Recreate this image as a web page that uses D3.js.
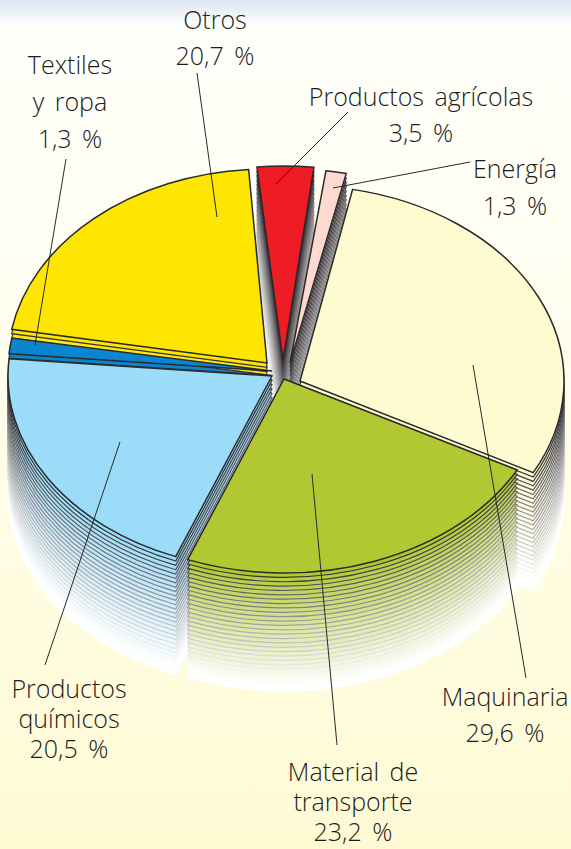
<!DOCTYPE html>
<html><head><meta charset="utf-8">
<script src="https://cdn.jsdelivr.net/npm/d3@7"></script>
<style>html,body{margin:0;padding:0;background:#fffbdc}svg{display:block}</style>
</head><body><svg id="c" width="571" height="849"></svg>
<script>
// ---- data ----
const categories = ["Maquinaria","Material de transporte","Productos químicos","Textiles y ropa","Otros","Productos agrícolas","Energía"];
const values = [29.6, 23.2, 20.5, 1.3, 20.7, 3.5, 1.3];
const valueLabels = ["29,6 %","23,2 %","20,5 %","1,3 %","20,7 %","3,5 %","1,3 %"];
const labelLines = [["Maquinaria"],["Material de","transporte"],["Productos","químicos"],["Textiles","y ropa"],["Otros"],["Productos agrícolas"],["Energía"]];
const colors = ["#fffbd0","#b2c832","#9bdcf9","#0a86d0","#ffe600","#ee1c25","#fdd9cf"];

// ---- layout ----
const W = 571, H = 849;
const RX = 264, RY = 194, DEPTH = 118, LAYERS = 27;
const apexX = [300,284,272,272,267,283,290];
const apexY = [381,379,376,371,363,360,363];
const rxFactor = [1,1,1,1,.982,1,1];
const ryFactor = [1.008,1,1,1,1,1,1];
const nudge = [[0,0],[0,0],[0,0],[0,0],[.2,1.7],[.1,-.1],[1,.8]]; // exploded-slice angular tweak, degrees
const drawOrder = [5,6,4,3,2,0,1];
const labelPos = [[505,706,36],[353,781,30],[69,698,30],[70,74,37],[215,29,36],[421,106,36],[515,178,37]];
const leaders = [[526,678,473,365],[337,745,312,474],[45,665,120,442],[66,159,35,345],[197,73,217,217],[348,112,276,184],[470,162,333,188]];

const svg = d3.select("#c");
const defs = svg.append("defs");
const bg = defs.append("linearGradient").attr("id","bg").attr("x1",0).attr("x2",0).attr("y1",0).attr("y2",1);
[[0,"#dde7f5"],[0.018,"#f0f4fa"],[0.03,"#fffffa"],[0.3,"#fffef2"],[0.7,"#fffce0"],[1,"#fff9d4"]]
  .forEach(([o,c])=>bg.append("stop").attr("offset",o).attr("stop-color",c));
svg.append("rect").attr("width",W).attr("height",H).attr("fill","url(#bg)");

const rad = d=>d*Math.PI/180;
const pie = d3.pie().sort(null).startAngle(rad(11.5)).endAngle(rad(371.5));
const arcs = pie(values);
const arc = d3.arc().innerRadius(0).outerRadius(RY);
const layerScale = d3.scaleLinear().domain([0,LAYERS]).range([0,DEPTH]);
const fade = d3.scaleLinear().domain([0,LAYERS-1]).range([0,1]);

drawOrder.forEach(i=>{
  const a = arcs[i];
  const shape = {startAngle:a.startAngle+rad(nudge[i][0]),endAngle:a.endAngle+rad(nudge[i][1])};
  const sc = `scale(${RX*rxFactor[i]/RY},${ryFactor[i]})`;
  const g = svg.append("g").attr("class","slice");
  d3.range(LAYERS,0,-1).forEach(k=>{
    const t = fade(k-1);
    g.append("path").attr("d",arc(shape))
      .attr("transform",`translate(${apexX[i]},${apexY[i]+layerScale(k)}) ${sc}`)
      .attr("fill",d3.interpolateRgb(colors[i],"#ffffff")(Math.pow(t,.8)))
      .attr("stroke",d3.interpolateRgb("#333338","#ffffff")(Math.min(1,Math.pow(t,.8)/.93)))
      .attr("stroke-width",1.2).attr("vector-effect","non-scaling-stroke");
  });
  g.append("path").attr("d",arc(shape))
    .attr("transform",`translate(${apexX[i]},${apexY[i]}) ${sc}`)
    .attr("fill",colors[i]).attr("stroke","#2a2a2a").attr("stroke-width",1.5)
    .attr("stroke-linejoin","miter").attr("vector-effect","non-scaling-stroke");
});

svg.append("g").selectAll("line").data(leaders).join("line")
  .attr("x1",d=>d[0]).attr("y1",d=>d[1]).attr("x2",d=>d[2]).attr("y2",d=>d[3])
  .attr("stroke","#2a2a2a").attr("stroke-width",1);

const labels = svg.append("g").attr("font-family","'Open Sans', sans-serif").attr("font-weight",300).attr("font-size",25).attr("word-spacing",4).attr("fill","#1c1c1c").attr("text-anchor","middle");
categories.forEach((c,i)=>{
  const lines = labelLines[i].concat(valueLabels[i]);
  const [x,y,dy] = labelPos[i];
  lines.forEach((s,j)=>labels.append("text").attr("x",x).attr("y",y+j*dy).text(s));
});
</script></body></html>
